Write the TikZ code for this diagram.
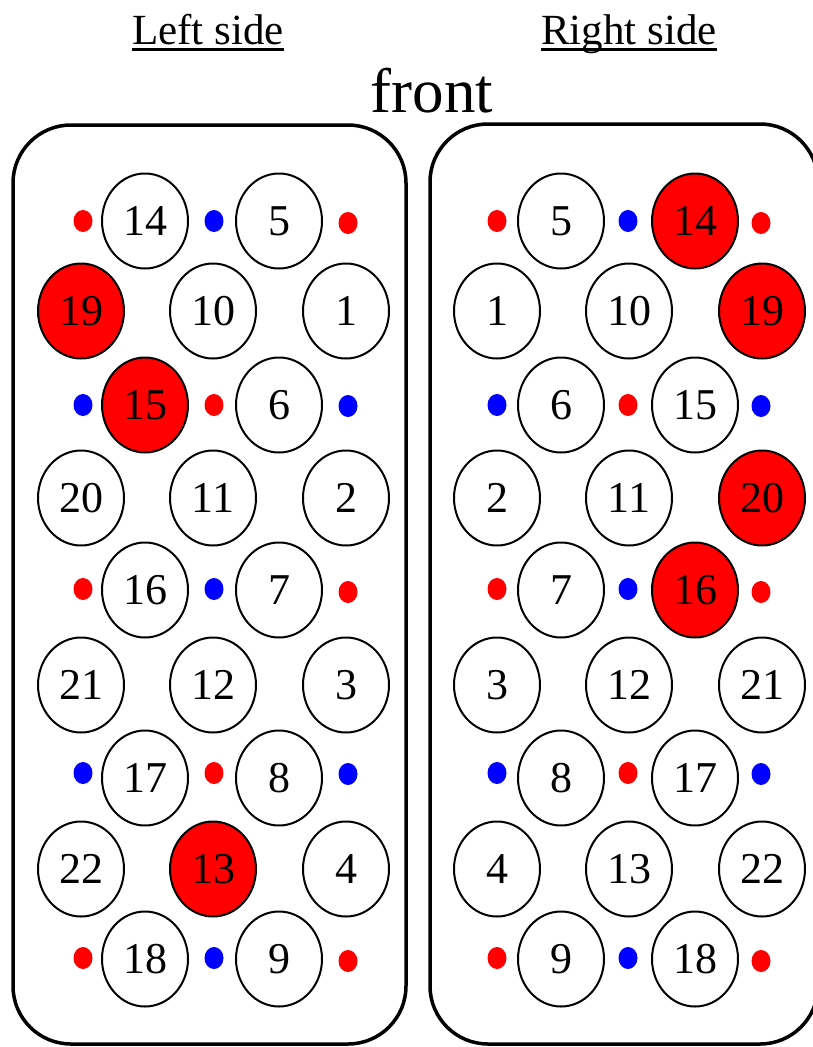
\documentclass[tikz,border=0pt]{standalone}
\usepackage{fontspec}
\setmainfont{Liberation Serif}
\usepackage{xcolor}
\usepackage{tikz}
\usetikzlibrary{shapes.geometric}
\definecolor{holered}{HTML}{FF0000}
\definecolor{holeblue}{HTML}{0000FF}

\tikzset{
  panel/.style={draw=black,line width=3.5pt,rounded corners=58pt},
  hole/.style={ellipse,draw=black,line width=2pt,fill=white,inner sep=0pt,
               minimum width=86pt,minimum height=95pt,
               font=\fontsize{44}{48}\selectfont},
  hothole/.style={hole,fill=holered},
  rdot/.style={ellipse,fill=holered,inner sep=0pt,minimum width=19pt,minimum height=22pt},
  bdot/.style={rdot,fill=holeblue},
  sidetitle/.style={anchor=base,inner sep=0pt,font=\fontsize{43}{48}\selectfont},
}

\begin{document}
\begin{tikzpicture}[x=1pt,y=-1pt]
\useasboundingbox (0,0) rectangle (813,1047);

% the two plates
\draw[panel] (13,125) rectangle (406,1044);
\draw[panel] (430,124) rectangle (818,1044);

% headings
\node[sidetitle] (lefttitle) at (208,44) {Left side};
\node[sidetitle] (righttitle) at (629,44) {Right side};
\draw[line width=3pt] ([yshift=-5pt]lefttitle.base west) -- ([yshift=-5pt]lefttitle.base east);
\draw[line width=3pt] ([yshift=-5pt]righttitle.base west) -- ([yshift=-5pt]righttitle.base east);
\node[anchor=base,font=\fontsize{63}{70}\selectfont] (front) at (432,112) {front};

% left side
\node[rdot] (ld1a) at (83,221) {};
\node[hole] (l14) at (145,221) {14};
\node[bdot] (ld1b) at (214,221) {};
\node[hole] (l5) at (279,221) {5};
\node[rdot] (ld1c) at (348,223) {};

\node[hothole] (l19) at (81,311) {19};
\node[hole] (l10) at (213,311) {10};
\node[hole] (l1) at (346,311) {1};

\node[bdot] (ld3a) at (83,405) {};
\node[hothole] (l15) at (145,405) {15};
\node[rdot] (ld3b) at (214,405) {};
\node[hole] (l6) at (279,405) {6};
\node[bdot] (ld3c) at (348,406) {};

\node[hole] (l20) at (81,498) {20};
\node[hole] (l11) at (213,498) {11};
\node[hole] (l2) at (346,498) {2};

\node[rdot] (ld5a) at (83,589) {};
\node[hole] (l16) at (145,590) {16};
\node[bdot] (ld5b) at (214,589) {};
\node[hole] (l7) at (279,590) {7};
\node[rdot] (ld5c) at (348,592) {};

\node[hole] (l21) at (81,685) {21};
\node[hole] (l12) at (213,685) {12};
\node[hole] (l3) at (346,685) {3};

\node[bdot] (ld7a) at (83,773) {};
\node[hole] (l17) at (145,778) {17};
\node[rdot] (ld7b) at (214,773) {};
\node[hole] (l8) at (279,778) {8};
\node[bdot] (ld7c) at (348,774) {};

\node[hole] (l22) at (81,869) {22};
\node[hothole] (l13) at (213,869) {13};
\node[hole] (l4) at (346,869) {4};

\node[rdot] (ld9a) at (83,958) {};
\node[hole] (l18) at (145,959) {18};
\node[bdot] (ld9b) at (214,958) {};
\node[hole] (l9) at (279,959) {9};
\node[rdot] (ld9c) at (348,961) {};

% right side
\node[rdot] (rd1a) at (497,221) {};
\node[hole] (r5) at (561,221) {5};
\node[bdot] (rd1b) at (628,221) {};
\node[hothole] (r14) at (695,221) {14};
\node[rdot] (rd1c) at (761,223) {};

\node[hole] (r1) at (497,311) {1};
\node[hole] (r10) at (629,311) {10};
\node[hothole] (r19) at (762,311) {19};

\node[bdot] (rd3a) at (497,405) {};
\node[hole] (r6) at (561,405) {6};
\node[rdot] (rd3b) at (628,405) {};
\node[hole] (r15) at (695,405) {15};
\node[bdot] (rd3c) at (761,406) {};

\node[hole] (r2) at (497,498) {2};
\node[hole] (r11) at (629,498) {11};
\node[hothole] (r20) at (762,498) {20};

\node[rdot] (rd5a) at (497,589) {};
\node[hole] (r7) at (561,590) {7};
\node[bdot] (rd5b) at (628,589) {};
\node[hothole] (r16) at (695,590) {16};
\node[rdot] (rd5c) at (761,592) {};

\node[hole] (r3) at (497,685) {3};
\node[hole] (r12) at (629,685) {12};
\node[hole] (r21) at (762,685) {21};

\node[bdot] (rd7a) at (497,773) {};
\node[hole] (r8) at (561,778) {8};
\node[rdot] (rd7b) at (628,773) {};
\node[hole] (r17) at (695,778) {17};
\node[bdot] (rd7c) at (761,774) {};

\node[hole] (r4) at (497,869) {4};
\node[hole] (r13) at (629,869) {13};
\node[hole] (r22) at (762,869) {22};

\node[rdot] (rd9a) at (497,958) {};
\node[hole] (r9) at (561,959) {9};
\node[bdot] (rd9b) at (628,958) {};
\node[hole] (r18) at (695,959) {18};
\node[rdot] (rd9c) at (761,961) {};
\end{tikzpicture}
\end{document}
